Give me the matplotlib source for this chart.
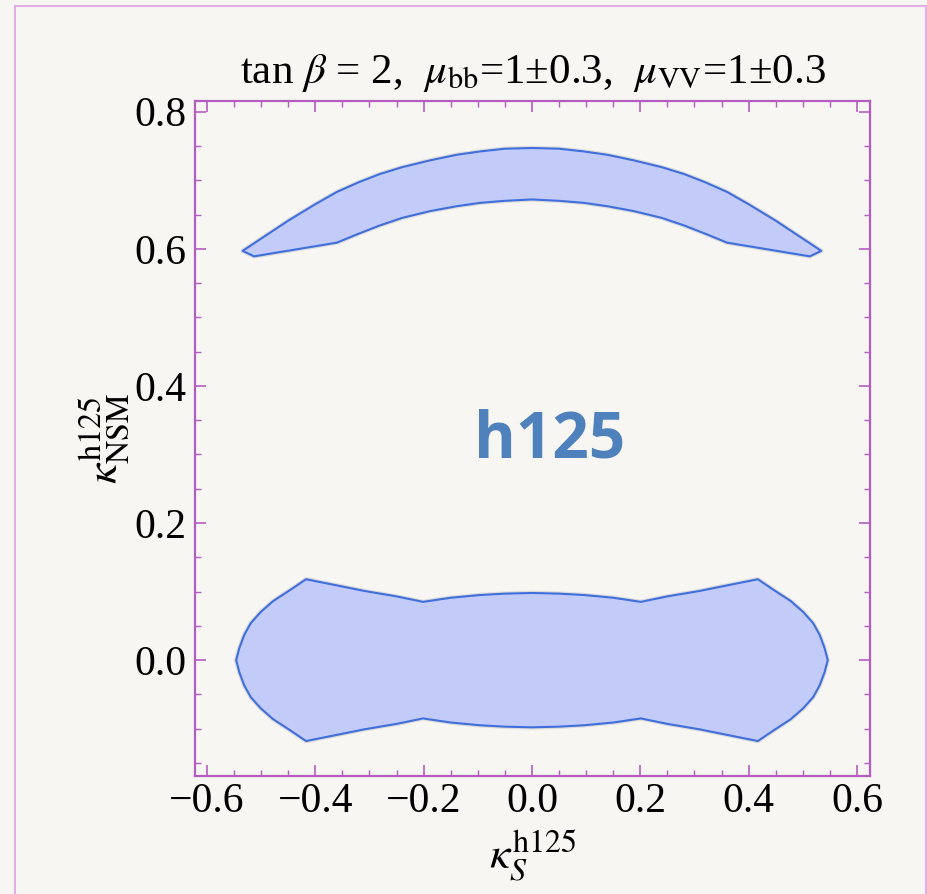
import matplotlib
matplotlib.use("Agg")
import numpy as np
from matplotlib import pyplot as plt
from matplotlib.patches import Polygon, Rectangle

plt.rcParams['font.family'] = ['Liberation Serif', 'DejaVu Serif']
plt.rcParams['mathtext.fontset'] = 'stix'

# upper band (kappa_NSM ~ 0.6-0.75): top edge left->right, bottom edge right->left
up_top_x = [-0.534, -0.45, -0.40, -0.36, -0.32, -0.281, -0.24, -0.188, -0.14, -0.096, -0.05, 0.0,
            0.05, 0.096, 0.14, 0.188, 0.24, 0.281, 0.32, 0.36, 0.40, 0.45, 0.534]
up_top_y = [0.597, 0.641, 0.665, 0.683, 0.697, 0.709, 0.719, 0.729, 0.737, 0.742, 0.746, 0.747,
            0.746, 0.742, 0.737, 0.729, 0.719, 0.709, 0.697, 0.683, 0.665, 0.641, 0.597]
up_bot_x = [0.513, 0.36, 0.32, 0.281, 0.24, 0.188, 0.14, 0.096, 0.05, 0.0,
            -0.05, -0.096, -0.14, -0.188, -0.24, -0.281, -0.32, -0.36, -0.513]
up_bot_y = [0.589, 0.609, 0.622, 0.634, 0.645, 0.655, 0.662, 0.667, 0.670, 0.672,
            0.670, 0.667, 0.662, 0.655, 0.645, 0.634, 0.622, 0.609, 0.589]

# lower region (around kappa_NSM = 0): top edge left->right
lo_top_x = [-0.546, -0.540, -0.531, -0.519, -0.501, -0.478, -0.447, -0.417,
            -0.36, -0.31, -0.25, -0.201, -0.15, -0.096, -0.05, 0.0,
            0.05, 0.096, 0.15, 0.201, 0.25, 0.31, 0.36,
            0.417, 0.447, 0.478, 0.501, 0.519, 0.531, 0.540, 0.546]
lo_top_y = [0.0, 0.018, 0.037, 0.054, 0.070, 0.086, 0.102, 0.118,
            0.109, 0.101, 0.093, 0.085, 0.091, 0.095, 0.097, 0.098,
            0.097, 0.095, 0.091, 0.085, 0.093, 0.101, 0.109,
            0.118, 0.102, 0.086, 0.070, 0.054, 0.037, 0.018, 0.0]
# bottom edge right->left
lo_bot_x = [0.540, 0.531, 0.519, 0.501, 0.478, 0.447, 0.417,
            0.36, 0.31, 0.25, 0.201, 0.15, 0.096, 0.05, 0.0,
            -0.05, -0.096, -0.15, -0.201, -0.25, -0.31, -0.36,
            -0.417, -0.447, -0.478, -0.501, -0.519, -0.531, -0.540]
lo_bot_y = [-0.018, -0.037, -0.054, -0.070, -0.086, -0.102, -0.118,
            -0.109, -0.101, -0.093, -0.085, -0.091, -0.095, -0.097, -0.098,
            -0.097, -0.095, -0.091, -0.085, -0.093, -0.101, -0.109,
            -0.118, -0.102, -0.086, -0.070, -0.054, -0.037, -0.018]

xticks = [-0.6, -0.4, -0.2, 0.0, 0.2, 0.4, 0.6]
yticks = [0.0, 0.2, 0.4, 0.6, 0.8]

bg = '#f7f6f3'
frame = '#b45cc0'
fill = '#c3cbf8'
edge = '#3f6fdc'

fig = plt.figure(figsize=(9.28, 8.94), dpi=100, facecolor=bg)
ax = fig.add_axes([195/928, 1-776/894, 675/928, 675/894])
ax.set_facecolor(bg)

for xs, ys in [(up_top_x + up_bot_x, up_top_y + up_bot_y),
               (lo_top_x + lo_bot_x, lo_top_y + lo_bot_y)]:
    pts = np.column_stack([xs, ys])
    ax.add_patch(Polygon(pts, closed=True, facecolor='none', edgecolor='#aaaaaa',
                         lw=3.2, alpha=0.35, joinstyle='round'))
    ax.add_patch(Polygon(pts, closed=True, facecolor=fill, edgecolor=edge,
                         lw=1.5, joinstyle='round'))

ax.set_xlim(-0.622, 0.624)
ax.set_ylim(-0.169, 0.8156)
ax.set_xticks(xticks)
ax.set_yticks(yticks)
ax.set_xticks(np.arange(-0.6, 0.61, 0.05), minor=True)
ax.set_yticks(np.arange(-0.15, 0.81, 0.05), minor=True)
ax.set_xticklabels(['\u22120.6', '\u22120.4', '\u22120.2', '0.0', '0.2', '0.4', '0.6'])
ax.set_yticklabels(['0.0', '0.2', '0.4', '0.6', '0.8'])
ax.tick_params(which='both', direction='in', top=True, right=True, color=frame,
               labelsize=30)
ax.tick_params(axis='x', which='major', pad=5)
ax.tick_params(axis='y', which='major', pad=6)
ax.tick_params(which='major', length=8, width=1.2)
ax.tick_params(which='minor', length=4.5, width=1.0)
for s in ax.spines.values():
    s.set_color(frame)
    s.set_linewidth(1.6)

ax.set_title(r'tan $\beta$ = 2,  $\mu_{\rm bb}$=1±0.3,  $\mu_{\rm VV}$=1±0.3',
             fontsize=31, pad=13)
ax.set_xlabel(r'$\kappa_{S}^{\rm h125}$', fontsize=33, labelpad=5)
ax.set_ylabel(r'$\kappa_{\rm NSM}^{\rm h125}$', fontsize=33, labelpad=2)

ax.text(0.033, 0.32, 'h125', color='#4f81bd', fontsize=46, fontweight='bold',
        family='Open Sans', ha='center', va='center')

# outer light pink frame of the slide
fig.patches.append(Rectangle((15/928, -0.05), 911/928, 1.05 - 6/894,
                             transform=fig.transFigure, fill=False,
                             edgecolor='#e3aee3', lw=1.5))

fig.savefig('out.png', dpi=100, facecolor=bg)
